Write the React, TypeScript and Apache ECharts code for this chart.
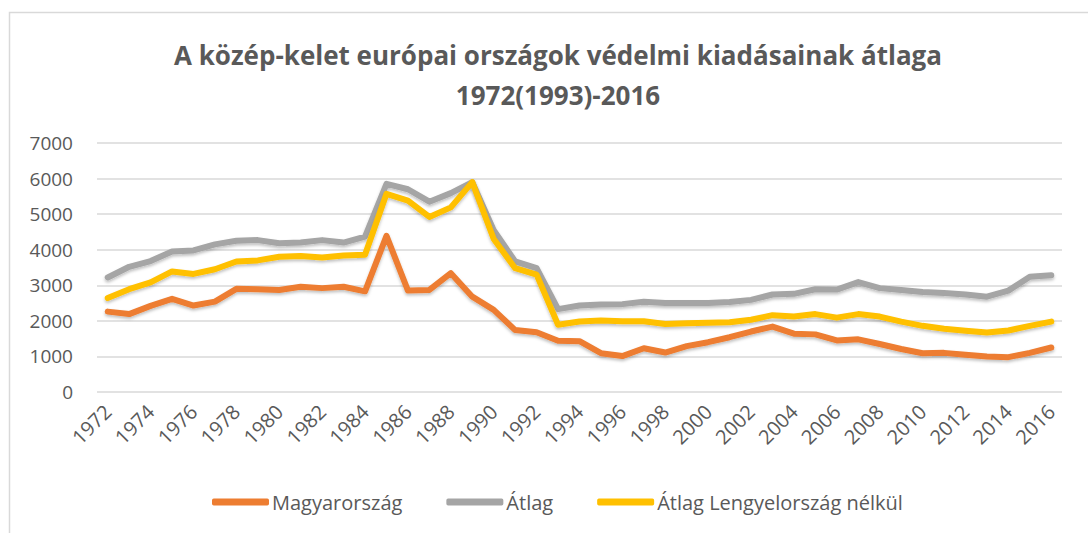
import React, { useEffect, useRef } from "react";
import * as echarts from "echarts";

const years: string[] = [];
for (let y = 1972; y <= 2016; y++) years.push(String(y));

const magyarorszag = [
  2260, 2190, 2420, 2620, 2430, 2540, 2900, 2890, 2870, 2960, 2920, 2960, 2830,
  4390, 2850, 2870, 3340, 2680, 2310, 1740, 1680, 1440, 1430, 1090, 1010, 1230,
  1110, 1290, 1400, 1540, 1700, 1840, 1640, 1620, 1450, 1480, 1350, 1210, 1090,
  1100, 1050, 1000, 980, 1100, 1250,
];

const atlag = [
  3220, 3520, 3680, 3950, 3980, 4150, 4250, 4270, 4180, 4200, 4270, 4200, 4370,
  5850, 5700, 5350, 5590, 5900, 4550, 3670, 3480, 2330, 2430, 2460, 2470, 2540,
  2500, 2500, 2500, 2530, 2590, 2740, 2760, 2890, 2880, 3090, 2920, 2870, 2810,
  2780, 2740, 2680, 2850, 3240, 3280,
];

const atlagLengyelNelkul = [
  2640, 2890, 3080, 3390, 3320, 3450, 3670, 3700, 3800, 3820, 3780, 3840, 3860,
  5570, 5380, 4920, 5190, 5900, 4300, 3480, 3300, 1890, 1980, 2010, 1990, 1990,
  1910, 1930, 1950, 1960, 2030, 2160, 2120, 2190, 2090, 2190, 2120, 1980, 1860,
  1780, 1720, 1670, 1730, 1860, 1980,
];

const seriesNames = ["Magyarország", "Átlag", "Átlag Lengyelország nélkül"];
const seriesColors = ["#ED7D31", "#A5A5A5", "#FFC000"];
const titleLines = [
  "A közép-kelet európai országok védelmi kiadásainak átlaga",
  "1972(1993)-2016",
];

export default function App() {
  const ref = useRef<HTMLDivElement>(null);
  useEffect(() => {
    document.body.style.margin = "0";
    if (!ref.current) return;
    const chart = echarts.init(ref.current, null, { renderer: "svg" });
    const font = "'Open Sans', 'Noto Sans', sans-serif";
    const data = [magyarorszag, atlag, atlagLengyelNelkul];
    chart.setOption({
      animation: false,
      textStyle: { fontFamily: font },
      title: {
        text: titleLines.join("\n"),
        left: 553,
        textAlign: "center",
        top: 30,
        textStyle: {
          fontFamily: font,
          fontSize: 26,
          fontWeight: "bold",
          color: "#595959",
          lineHeight: 40,
        },
      },
      graphic: [
        {
          type: "rect",
          shape: { x: 9.5, y: 12.5, width: 1100, height: 600 },
          style: { fill: "none", stroke: "#D9D9D9", lineWidth: 1.5 },
          silent: true,
        },
      ],
      legend: {
        bottom: 16,
        left: 207,
        icon: "roundRect",
        itemWidth: 57,
        itemHeight: 7,
        itemGap: 44,
        textStyle: { fontFamily: font, fontSize: 20, color: "#595959", padding: [0, 0, 0, -2] },
        data: seriesNames,
      },
      grid: { left: 97, right: 26, top: 143, bottom: 141, containLabel: false },
      xAxis: {
        type: "category",
        data: years,
        boundaryGap: true,
        axisLine: { show: false },
        axisTick: { show: false },
        axisLabel: {
          interval: 1,
          rotate: 45,
          fontFamily: font,
          fontSize: 20,
          color: "#595959",
          margin: 16,
        },
      },
      yAxis: {
        type: "value",
        min: 0,
        max: 7000,
        interval: 1000,
        axisLine: { show: false },
        axisTick: { show: false },
        splitLine: { lineStyle: { color: "#D9D9D9", width: 1.5 } },
        axisLabel: {
          fontFamily: font,
          fontSize: 19,
          color: "#595959",
          margin: 24,
          formatter: (v: number) => String(v),
        },
      },
      series: seriesNames.map((name, i) => ({
        name,
        type: "line",
        data: data[i],
        symbol: "none",
        color: seriesColors[i],
        lineStyle: {
          width: 6,
          color: seriesColors[i],
          cap: "round",
          join: "round",
          shadowColor: "rgba(0,0,0,0.25)",
          shadowBlur: 3,
          shadowOffsetY: 2,
        },
        z: 2 + i,
      })),
    });
    return () => chart.dispose();
  }, []);
  return <div ref={ref} style={{ width: 1088, height: 533 }} />;
}
